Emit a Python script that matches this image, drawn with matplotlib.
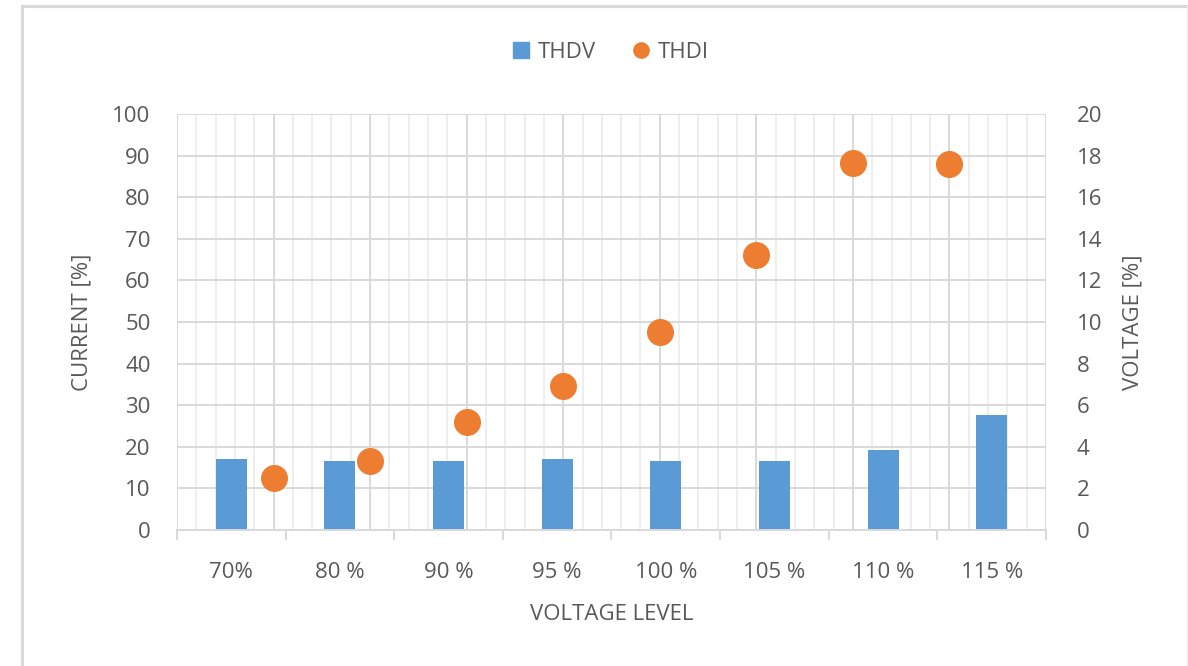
import numpy as np
import matplotlib
matplotlib.use('Agg')
import matplotlib.pyplot as plt
from matplotlib.ticker import MultipleLocator, FixedLocator, NullFormatter
from matplotlib.lines import Line2D

# data
levels = ['70%', '80 %', '90 %', '95 %', '100 %', '105 %', '110 %', '115 %']
thdv = [3.41, 3.34, 3.34, 3.41, 3.34, 3.34, 3.85, 5.55]      # voltage [%], right axis
thdi_x = [1, 2, 3, 4, 5, 6, 7, 8]
thdi = [12.5, 16.7, 26.0, 34.6, 47.6, 66.1, 88.2, 87.9]     # current [%], left axis

TXT = '#595959'
BLUE = '#5B9BD5'
ORANGE = '#ED7D31'
FS = 16
plt.rcParams['font.family'] = ['Open Sans', 'DejaVu Sans']

W, H = 1188, 666
fig = plt.figure(figsize=(W / 100, H / 100), dpi=100)

L, R, T, B = 177, 1046, 114, 530
ax = fig.add_axes([L / W, 1 - B / H, (R - L) / W, (B - T) / H])

# scatter axes (hidden x from 0 to 9)
ax.set_xlim(0, 9)
ax.set_ylim(0, 100)
ax.xaxis.set_major_locator(MultipleLocator(1))
ax.xaxis.set_minor_locator(MultipleLocator(0.2))
ax.yaxis.set_major_locator(MultipleLocator(10))
ax.grid(True, which='major', axis='both', color='#d9d9d9', lw=1.4)
ax.grid(True, which='minor', axis='x', color='#eeeeee', lw=1.4)
ax.tick_params(axis='x', which='both', length=0, labelbottom=False)
ax.tick_params(axis='y', length=0, labelsize=FS, labelcolor=TXT, pad=19)
for s in ax.spines.values():
    s.set_visible(False)
ax.set_axisbelow(True)
ax.scatter(thdi_x, thdi, s=340, color=ORANGE, zorder=3, clip_on=False)
ax.set_ylabel('CURRENT [%]', fontsize=FS, color=TXT, labelpad=14)

# voltage axis on the right, bars on the category axis
axv = ax.twinx()
axv.set_ylim(0, 20)
axv.yaxis.set_major_locator(MultipleLocator(2))
axv.tick_params(axis='y', length=0, labelsize=FS, labelcolor=TXT, pad=22)
axv.set_ylabel('VOLTAGE [%]', fontsize=FS, color=TXT, labelpad=15)
for s in axv.spines.values():
    s.set_visible(False)

axc = axv.twiny()
pos = np.arange(len(levels))
axc.bar(pos, thdv, width=0.285, color=BLUE, zorder=2)
axc.set_xlim(-0.5, len(levels) - 0.5)
axc.xaxis.set_ticks_position('bottom')
axc.xaxis.set_label_position('bottom')
axc.xaxis.set_major_locator(FixedLocator(np.arange(-0.5, len(levels), 1.0)))
axc.xaxis.set_major_formatter(NullFormatter())
axc.xaxis.set_minor_locator(FixedLocator(pos))
axc.set_xticklabels(levels, minor=True)
axc.tick_params(axis='x', which='major', length=7, color='#d9d9d9', width=1.4)
axc.tick_params(axis='x', which='minor', length=0, labelsize=FS, labelcolor=TXT, pad=23)
for s in axc.spines.values():
    s.set_visible(False)
axc.spines['bottom'].set_visible(True)
axc.spines['bottom'].set_color('#d9d9d9')
axc.spines['bottom'].set_linewidth(1.4)
axc.set_xlabel('VOLTAGE LEVEL', fontsize=FS, color=TXT, labelpad=15)

# legend
handles = [Line2D([], [], marker='s', ls='', color=BLUE, markersize=11),
           Line2D([], [], marker='o', ls='', color=ORANGE, markersize=11)]
fig.legend(handles, ['THDV', 'THDI'], loc='center', bbox_to_anchor=(0.513, 1 - 52 / H),
           ncol=2, frameon=False, fontsize=FS, labelcolor=TXT,
           handletextpad=0.25, columnspacing=1.5, handlelength=1.0)

# chart area border
fig.add_artist(Line2D([21.5 / W, 21.5 / W], [0, 1 - 5.5 / H], color='#d9d9d9', lw=2.2))
fig.add_artist(Line2D([21.5 / W, 1], [1 - 5.5 / H, 1 - 5.5 / H], color='#d9d9d9', lw=2.2))
fig.add_artist(Line2D([1186.5 / W, 1186.5 / W], [0, 1 - 5.5 / H], color='#eeeeee', lw=1))

fig.savefig('out.png', dpi=100)
